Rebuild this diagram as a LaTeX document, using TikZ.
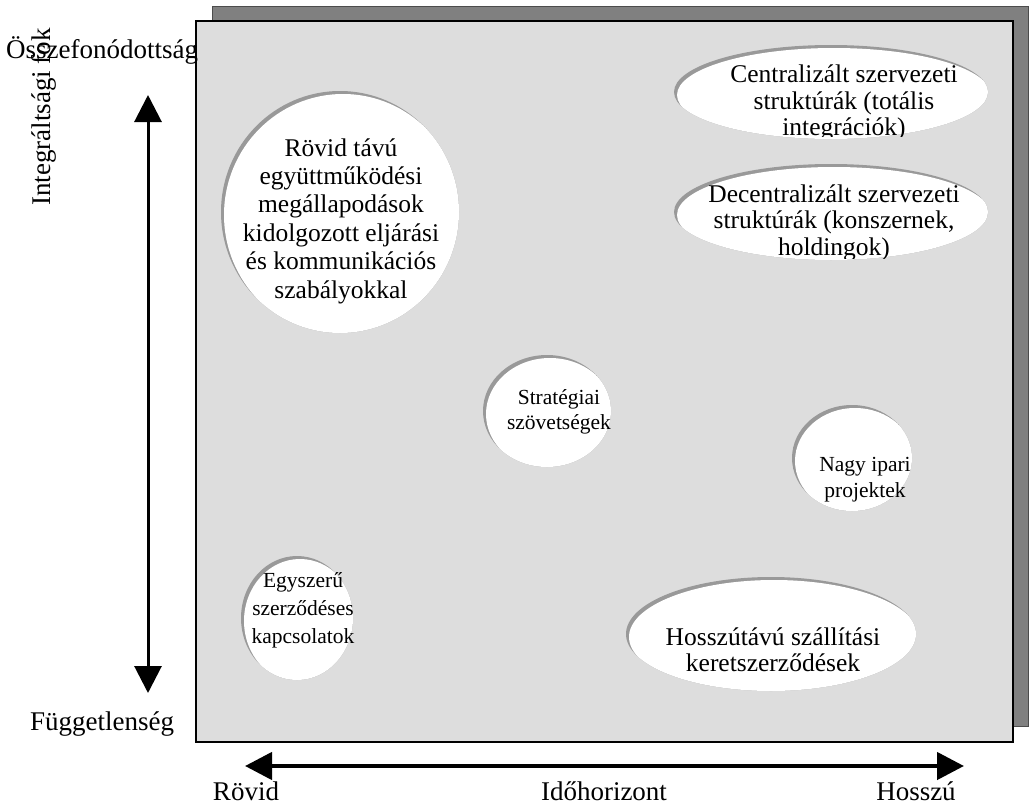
\documentclass[tikz,border=0pt]{standalone}
\usepackage{fontspec}
\setmainfont{Liberation Serif}
\usetikzlibrary{arrows.meta}

\definecolor{panelfill}{gray}{0.867}
\definecolor{panelshadow}{gray}{0.5}
\definecolor{rimgray}{gray}{0.6}

\tikzset{
  axislabel/.style={font=\fontsize{27}{30}\selectfont, inner sep=0pt},
  ovaltext/.style={font=\fontsize{25.5}{26.5}\selectfont, align=center, inner sep=0pt},
  smallovaltext/.style={ovaltext, font=\fontsize{21.5}{27}\selectfont},
  axisarrow/.style={line width=3pt, {Triangle[length=27pt,width=27pt]}-{Triangle[length=27pt,width=27pt]}},
}

% white oval with a grey rim inside its upper left edge
\newcommand\rimoval[3]{%
  \fill[rimgray] (#1) ellipse [x radius=#2pt, y radius=#3pt];
  \begin{scope}
    \clip (#1) ellipse [x radius=#2pt, y radius=#3pt];
    \fill[white, shift={(3,3)}] (#1) ellipse [x radius=#2pt, y radius=#3pt];
  \end{scope}}

\begin{document}
\begin{tikzpicture}[x=1pt, y=-1pt]
\useasboundingbox (0,0) rectangle (1029,806);

% panel and its shadow
\fill[panelshadow] (212,6) rectangle (1028,726);
\draw[line width=0.8pt, black!70] (212,6) rectangle (1028,726);
\fill[panelfill] (196,21) rectangle (1013,742);
\draw[line width=1.6pt] (196,21) rectangle (1013,742);

% ovals
\rimoval{340,212}{119}{121}
\rimoval{831,92}{157}{47}
\rimoval{831,212}{157}{48}
\rimoval{547,411}{64}{56}
\rimoval{852,458}{60}{53}
\rimoval{297,618}{56}{62}
\rimoval{771,634}{145}{57}

% oval texts
\node[ovaltext, font=\fontsize{25.5}{28.4}\selectfont] (shortterm) at (341,221)
  {Rövid távú\\együttműködési\\megállapodások\\kidolgozott eljárási\\és kommunikációs\\szabályokkal};
\begin{scope}
  \clip (660,40) rectangle (1000,136);
  \node[ovaltext] (central) at (844,103)
    {Centralizált szervezeti\\struktúrák (totális\\integrációk)};
\end{scope}
\begin{scope}
  \clip (660,160) rectangle (1000,258);
  \node[ovaltext] (decentral) at (834,222.5)
    {Decentralizált szervezeti\\struktúrák (konszernek,\\holdingok)};
\end{scope}
\node[smallovaltext, font=\fontsize{21.5}{24.5}\selectfont] (strategic) at (559,412) {Stratégiai\\szövetségek};
\node[smallovaltext, font=\fontsize{21.5}{26}\selectfont] (projects) at (865,480) {Nagy ipari\\projektek};
\node[smallovaltext, font=\fontsize{21.5}{28}\selectfont] (simple) at (303,610) {Egyszerű\\szerződéses\\kapcsolatok};
\node[ovaltext] (supply) at (773,650) {Hosszútávú szállítási\\keretszerződések};

% axis labels
\node[axislabel, anchor=base west] (interlock) at (6,58) {Összefonódottság};
\node[axislabel, anchor=base west] (independent) at (30,730) {Függetlenség};
\node[axislabel, rotate=90, anchor=base] (integration) at (50,117) {Integráltsági fok};
\node[axislabel, anchor=base] (short) at (246,800) {Rövid};
\node[axislabel, anchor=base] (horizon) at (604,800) {Időhorizont};
\node[axislabel, anchor=base] (long) at (916,800) {Hosszú};

% axis arrows
\coordinate (vtop) at (148,95);
\coordinate (vbottom) at (148,693);
\coordinate (hleft) at (245,766);
\coordinate (hright) at (964,766);
\draw[axisarrow] (vbottom) -- (vtop);
\draw[axisarrow, line width=4.5pt] (hleft) -- (hright);
\end{tikzpicture}
\end{document}
